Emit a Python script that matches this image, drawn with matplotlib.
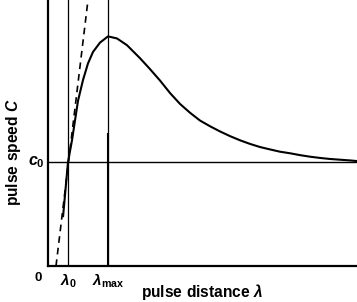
import matplotlib
matplotlib.use("Agg")
import matplotlib.pyplot as plt

plt.rcParams['font.family'] = ['Liberation Sans', 'DejaVu Sans']
plt.rcParams['mathtext.fontset'] = 'custom'
plt.rcParams['mathtext.rm'] = 'Liberation Sans:bold'
plt.rcParams['mathtext.it'] = 'Liberation Sans:bold:italic'
plt.rcParams['mathtext.bf'] = 'Liberation Sans:bold'

# curve C(lambda), in units where lambda0 = 1 and c0 = 1
lam = [0.75, 1.0, 1.2, 1.35, 1.5, 1.75, 2.0, 2.25, 2.6, 3.0, 3.45, 3.95,
       4.6, 5.1, 5.6, 6.1, 6.6, 7.1, 7.6, 8.1, 8.6, 9.1, 9.6, 10.1, 10.6,
       11.1, 11.6, 12.1, 12.6, 13.1, 13.6, 14.1, 14.6, 15.1, 15.45]
speed = [0.47, 1.0, 1.21, 1.40, 1.59, 1.79, 1.95, 2.06, 2.15, 2.21, 2.19, 2.125,
         2.0, 1.895, 1.785, 1.665, 1.56, 1.475, 1.40, 1.345, 1.295, 1.25, 1.21, 1.175, 1.145,
         1.122, 1.10, 1.085, 1.067, 1.052, 1.04, 1.03, 1.023, 1.016, 1.01]
# dashed tangent (linear dispersion limit)
tan_lam = [0.4, 2.0]
tan_speed = [0.0, 2.56]

lam0 = 1.0
lam_max = 3.0
c0 = 1.0
xlim = (0, 15.45)
ylim = (0, 2.56)

fig = plt.figure(figsize=(3.57, 3.02), dpi=100)
ax = fig.add_axes([48/357, 36/302, 309/357, 266/302])
ax.set_xlim(*xlim)
ax.set_ylim(*ylim)
for s in ['top', 'right']:
    ax.spines[s].set_visible(False)
for s in ['left', 'bottom']:
    ax.spines[s].set_linewidth(1.6)
ax.set_xticks([])
ax.set_yticks([])

ax.axhline(c0, color='black', lw=1.0)
ax.axvline(lam0, color='black', lw=0.9)
ax.axvline(lam_max, color='black', lw=0.9)
ax.plot([lam_max, lam_max], [0, 1.27], color='black', lw=1.5)
ax.plot(tan_lam, tan_speed, color='black', lw=1.2, ls=(0, (4, 3)), clip_on=False)
ax.plot(lam, speed, color='black', lw=1.5, solid_capstyle='butt', solid_joinstyle='round')

ax.text(-0.5, -0.115, r'$\mathrm{0}$', ha='center', va='center', fontsize=9.5)
ax.text(lam0, -0.14, r'$\lambda_{0}$', ha='center', va='center', fontsize=11)
ax.text(lam_max, -0.14, r'$\lambda_{\mathrm{max}}$', ha='center', va='center', fontsize=11)
ax.text(-0.6, c0, r'$c_{0}$', ha='center', va='center', fontsize=11.5)

fig.text(14/357, 1 - 152/302, r'$\mathrm{pulse\ speed}\ C$', rotation=90,
         ha='center', va='center', fontsize=11.2)
fig.text(202/357, 1 - 292/302, r'$\mathrm{pulse\ distance}\ \lambda$',
         ha='center', va='center', fontsize=11.2)

fig.savefig('out.png', dpi=100)
